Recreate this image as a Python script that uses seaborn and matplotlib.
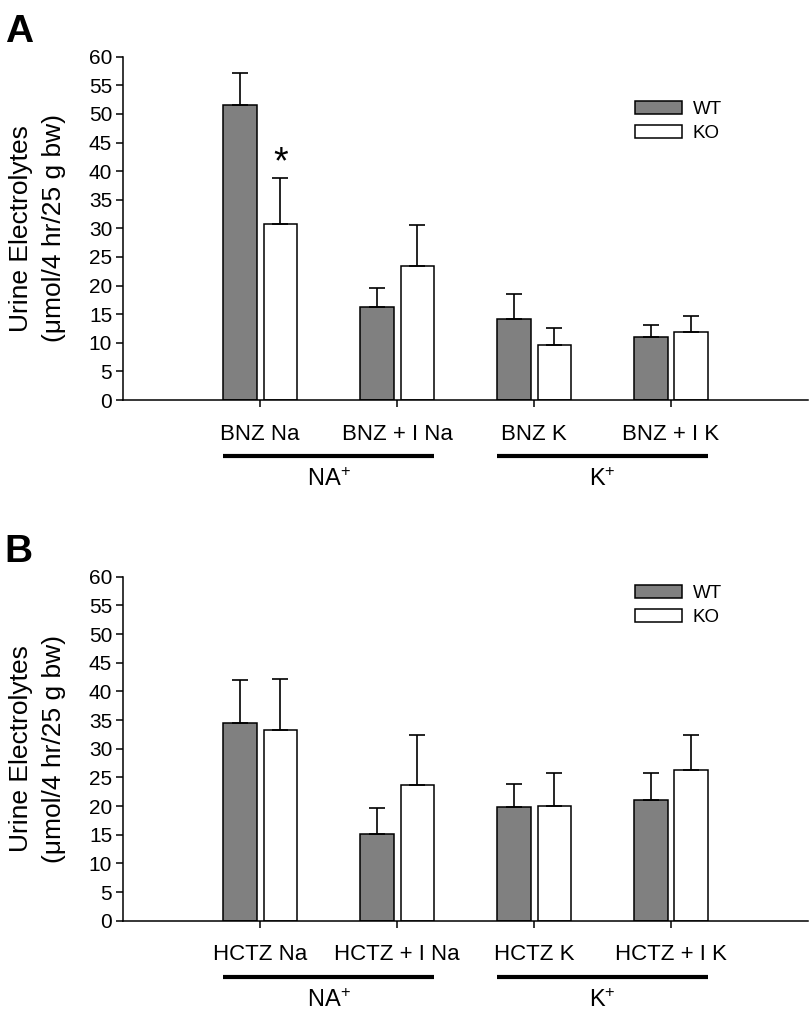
import numpy as np
import pandas as pd
import seaborn as sns
import matplotlib.pyplot as plt
from matplotlib.patches import Patch

# Panel A: BNZ
categories_a = ["BNZ Na", "BNZ + I Na", "BNZ K", "BNZ + I K"]
wt_a = [51.6, 16.2, 14.1, 11.1]
wt_a_err = [5.6, 3.3, 4.4, 2.0]
ko_a = [30.7, 23.5, 9.6, 11.8]
ko_a_err = [8.1, 7.0, 3.0, 2.9]

# Panel B: HCTZ
categories_b = ["HCTZ Na", "HCTZ + I Na", "HCTZ K", "HCTZ + I K"]
wt_b = [34.4, 15.1, 19.8, 21.1]
wt_b_err = [7.6, 4.6, 4.1, 4.7]
ko_b = [33.2, 23.7, 20.0, 26.3]
ko_b_err = [8.9, 8.7, 5.7, 6.1]

genotypes = ["WT", "KO"]
colors = {"WT": "#808080", "KO": "white"}
ion_groups = ["NA$^{+}$", "K$^{+}$"]
ion_members = [(0, 1), (2, 3)]

sns.set_style("ticks")
plt.rcParams["font.family"] = ["Liberation Sans", "DejaVu Sans"]
plt.rcParams["mathtext.default"] = "regular"
for key in ["text.color", "axes.labelcolor", "xtick.color", "ytick.color", "axes.edgecolor"]:
    plt.rcParams[key] = "black"


def draw_panel(ax, categories, wt, wt_err, ko, ko_err, legend_top, star=False):
    df = pd.DataFrame({
        "Condition": categories * 2,
        "Genotype": ["WT"] * len(categories) + ["KO"] * len(categories),
        "Value": wt + ko,
    })
    sns.barplot(
        data=df, x="Condition", y="Value", hue="Genotype",
        order=categories, hue_order=genotypes, palette=colors,
        width=0.59, gap=0.17, saturation=1, errorbar=None,
        edgecolor="black", linewidth=1.1, legend=False, ax=ax,
    )

    # one-sided (upward) error bars on top of each bar
    for cont, err in zip(ax.containers, [wt_err, ko_err]):
        xs = [p.get_x() + p.get_width() / 2 for p in cont.patches]
        ys = [p.get_height() for p in cont.patches]
        ax.errorbar(xs, ys, yerr=[np.zeros(len(err)), err], fmt="none",
                    ecolor="black", elinewidth=1.2, capsize=6, capthick=1.2)

    if star:
        p = ax.containers[1].patches[0]
        ax.text(p.get_x() + p.get_width() / 2, p.get_height() + ko_err[0] - 0.6,
                "*", ha="center", va="bottom", fontsize=27)

    ax.set_xlim(-1, 4)
    ax.set_ylim(0, 60)
    ax.set_yticks(range(0, 61, 5))
    ax.set_xlabel("")
    ax.set_ylabel("Urine Electrolytes\n(\u03bcmol/4 hr/25 g bw)", fontsize=19, linespacing=1.45)
    ax.yaxis.set_label_coords(-0.084, 0.5)
    ax.tick_params(axis="y", length=5, width=1.1, pad=3, labelsize=15)
    ax.tick_params(axis="x", length=5, width=1.1, pad=12, labelsize=16)
    for s in ["left", "bottom"]:
        ax.spines[s].set_linewidth(1.1)
    sns.despine(ax=ax)

    # group bars under the tick labels
    trans = ax.get_xaxis_transform()
    wt_p = ax.containers[0].patches
    ko_p = ax.containers[1].patches
    for name, (i0, i1) in zip(ion_groups, ion_members):
        x0 = wt_p[i0].get_x()
        x1 = ko_p[i1].get_x() + ko_p[i1].get_width()
        ax.plot([x0, x1], [-0.163, -0.163], transform=trans, color="black",
                lw=3, clip_on=False, solid_capstyle="butt")
        ax.text((x0 + x1) / 2, -0.232, name, transform=trans,
                ha="center", va="center", fontsize=17)

    handles = [Patch(facecolor=colors[g], edgecolor="black", linewidth=1.1, label=g)
               for g in genotypes]
    ax.legend(handles=handles, loc="upper left", bbox_to_anchor=(0.747, legend_top),
              frameon=False, fontsize=13.5, handlelength=2.5, handleheight=0.7,
              handletextpad=0.6, labelspacing=0.35, borderpad=0, borderaxespad=0)


fig = plt.figure(figsize=(8.12, 10.14), dpi=100)
ax_a = fig.add_axes([0.1518, 0.6055, 0.8432, 0.3386])
ax_b = fig.add_axes([0.1518, 0.0920, 0.8432, 0.3393])

draw_panel(ax_a, categories_a, wt_a, wt_a_err, ko_a, ko_a_err, legend_top=0.87, star=True)
draw_panel(ax_b, categories_b, wt_b, wt_b_err, ko_b, ko_b_err, legend_top=0.975)

fig.text(0.006, 1 - 42 / 1014, "A", fontsize=28, fontweight="bold", va="baseline")
fig.text(0.006, 1 - 562 / 1014, "B", fontsize=28, fontweight="bold", va="baseline")

fig.savefig("out.png", dpi=100)
